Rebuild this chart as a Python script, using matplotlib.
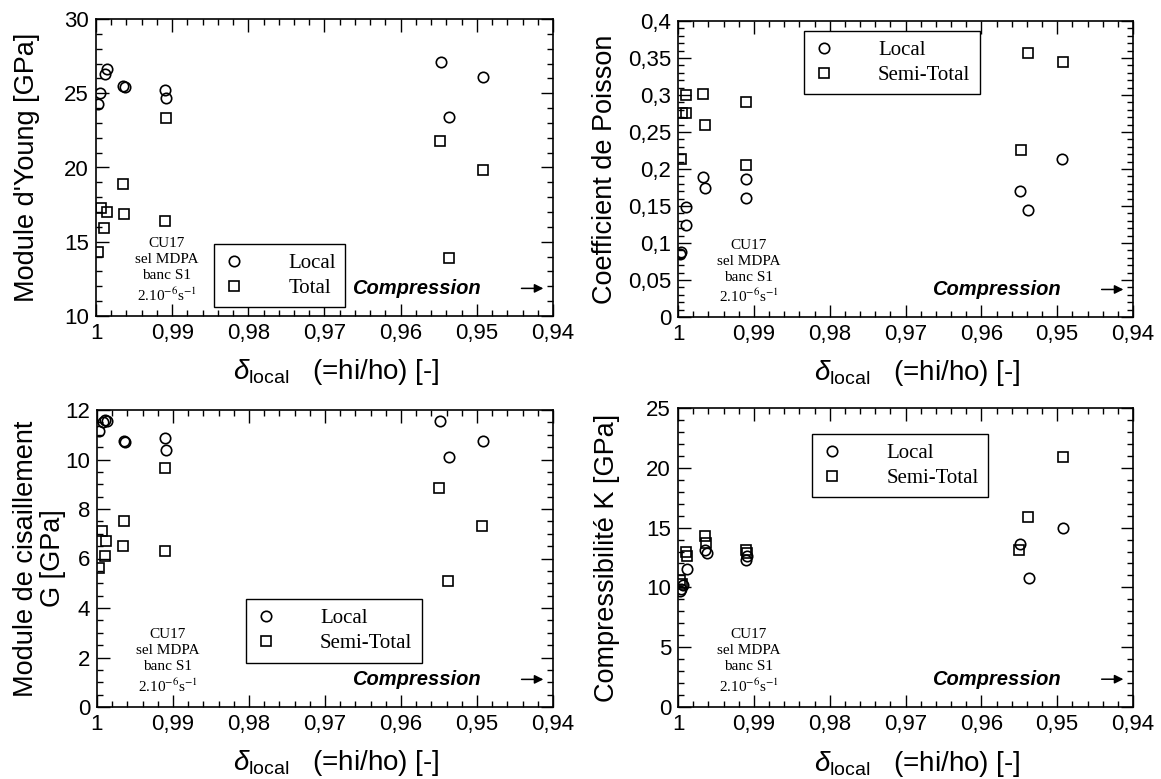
import matplotlib
matplotlib.use('Agg')
import matplotlib.pyplot as plt
from matplotlib.ticker import MultipleLocator, FuncFormatter

plt.rcParams['font.family'] = ['Liberation Sans', 'DejaVu Sans']
plt.rcParams['mathtext.fontset'] = 'custom'
plt.rcParams['mathtext.rm'] = 'Liberation Sans'
plt.rcParams['mathtext.it'] = 'Liberation Sans:italic'

# Module d'Young
x_young_local = [0.9997, 0.9995, 0.9988, 0.9986, 0.9964, 0.9962, 0.9910, 0.9908, 0.9547, 0.9537, 0.9492]
young_local = [24.3, 25.0, 26.3, 26.6, 25.5, 25.4, 25.2, 24.7, 27.1, 23.4, 26.1]
x_young_total = [0.9997, 0.9994, 0.9989, 0.9986, 0.9964, 0.9963, 0.9908, 0.9910, 0.9548, 0.9537, 0.9492]
young_total = [14.3, 17.3, 15.9, 17.0, 18.9, 16.9, 23.3, 16.4, 21.8, 13.9, 19.8]

# Coefficient de Poisson
x_poisson_local = [0.9997, 0.9996, 0.9989, 0.9989, 0.9967, 0.9965, 0.9910, 0.9910, 0.9549, 0.9538, 0.9494]
poisson_local = [0.085, 0.088, 0.124, 0.149, 0.189, 0.175, 0.186, 0.161, 0.170, 0.145, 0.214]
x_poisson_semi = [0.9996, 0.9995, 0.9989, 0.9989, 0.9967, 0.9965, 0.9910, 0.9910, 0.9548, 0.9538, 0.9492]
poisson_semi = [0.214, 0.275, 0.276, 0.300, 0.302, 0.259, 0.290, 0.205, 0.226, 0.357, 0.345]

# Module de cisaillement G
x_shear_local = [0.9997, 0.9992, 0.9989, 0.9987, 0.9965, 0.9963, 0.9910, 0.9909, 0.9549, 0.9537, 0.9492]
shear_local = [11.15, 11.5, 11.6, 11.55, 10.75, 10.7, 10.85, 10.4, 11.55, 10.1, 10.75]
x_shear_semi = [0.9997, 0.9993, 0.9988, 0.9989, 0.9964, 0.9966, 0.9910, 0.9910, 0.9550, 0.9538, 0.9494]
shear_semi = [5.6, 7.1, 6.7, 6.1, 7.5, 6.5, 9.65, 6.3, 8.85, 5.1, 7.3]

# Compressibilite K
x_bulk_local = [0.9997, 0.9996, 0.9994, 0.9988, 0.9965, 0.9962, 0.9910, 0.9909, 0.9549, 0.9537, 0.9492]
bulk_local = [9.7, 9.9, 10.2, 11.5, 13.1, 12.9, 12.3, 12.6, 13.6, 10.8, 15.0]
x_bulk_semi = [0.9997, 0.9995, 0.9990, 0.9988, 0.9965, 0.9963, 0.9910, 0.9909, 0.9550, 0.9539, 0.9492]
bulk_semi = [10.6, 10.3, 13.0, 12.6, 14.3, 13.7, 13.1, 12.9, 13.1, 15.9, 20.9]

W, H = 1161, 779


def rect(x0, y0, x1, y1):
    # pixel box -> figure fraction
    return [x0 / W, 1 - y1 / H, (x1 - x0) / W, (y1 - y0) / H]


def comma(v, pos):
    return ('%g' % round(v, 4)).replace('.', ',')


def panel(ax, xl, yl, xs, ys, labels, ylim, ymaj, ymin, ylabel, ylab_x, leg_pos):
    ax.plot(xl, yl, 'o', ms=7.5, mfc='none', mec='black', mew=1.2, label=labels[0])
    ax.plot(xs, ys, 's', ms=7, mfc='none', mec='black', mew=1.2, label=labels[1])
    ax.set_xlim(1, 0.94)
    ax.set_ylim(*ylim)
    ax.xaxis.set_major_locator(MultipleLocator(0.01))
    ax.xaxis.set_minor_locator(MultipleLocator(0.002))
    ax.yaxis.set_major_locator(MultipleLocator(ymaj))
    ax.yaxis.set_minor_locator(MultipleLocator(ymin))
    ax.xaxis.set_major_formatter(FuncFormatter(comma))
    ax.yaxis.set_major_formatter(FuncFormatter(comma))
    ax.tick_params(which='both', direction='in', top=True, right=True, width=1)
    ax.tick_params(which='major', length=9, labelsize=16, pad=5)
    ax.tick_params(which='minor', length=4)
    for s in ax.spines.values():
        s.set_linewidth(1.2)

    ax.set_ylabel(ylabel, fontsize=19.5, linespacing=1.05)
    ax.yaxis.set_label_coords(ylab_x, 0.5)
    ax.yaxis.label.set_va('center')
    ax.set_xlabel(r'$\delta_{\mathrm{local}}$   (=hi/ho) [-]', fontsize=20)
    ax.xaxis.set_label_coords(0.525, -0.19)
    ax.xaxis.label.set_va('center')

    leg = ax.legend(loc='upper left', bbox_to_anchor=leg_pos, borderaxespad=0,
                    fancybox=False, framealpha=1, edgecolor='black',
                    handlelength=1, handletextpad=2.1, borderpad=0.45,
                    labelspacing=0.25, prop={'family': 'Liberation Serif', 'size': 15})
    leg.get_frame().set_linewidth(1)

    ax.text(0.155, 0.265, 'CU17\nsel MDPA\nbanc S1\n2.10$^{-6}$s$^{-1}$',
            transform=ax.transAxes, ha='center', va='top', fontsize=11,
            family='Liberation Serif', math_fontfamily='stix', linespacing=1.3)
    ax.text(0.70, 0.093, 'Compression', transform=ax.transAxes, ha='center',
            va='center', fontsize=14.5, fontweight='bold', fontstyle='italic')
    ax.annotate('', xy=(0.985, 0.093), xytext=(0.925, 0.093), xycoords='axes fraction',
                arrowprops=dict(arrowstyle='-|>', color='black', lw=1.1, mutation_scale=13))


fig = plt.figure(figsize=(W / 100, H / 100), dpi=100)

ax1 = fig.add_axes(rect(96, 19, 553, 316))
panel(ax1, x_young_local, young_local, x_young_total, young_total, ['Local', 'Total'],
      (10, 30), 5, 1, "Module d'Young [GPa]", -0.15, (0.259, 0.242))

ax2 = fig.add_axes(rect(678, 21, 1133, 317))
panel(ax2, x_poisson_local, poisson_local, x_poisson_semi, poisson_semi, ['Local', 'Semi-Total'],
      (0, 0.4), 0.05, 0.01, 'Coefficient de Poisson', -0.16, (0.277, 0.966))

ax3 = fig.add_axes(rect(97, 410, 553, 707))
panel(ax3, x_shear_local, shear_local, x_shear_semi, shear_semi, ['Local', 'Semi-Total'],
      (0, 12), 2, 0.5, 'Module de cisaillement\nG [GPa]', -0.125, (0.327, 0.362))

ax4 = fig.add_axes(rect(678, 408, 1133, 707))
panel(ax4, x_bulk_local, bulk_local, x_bulk_semi, bulk_semi, ['Local', 'Semi-Total'],
      (0, 25), 5, 1, 'Compressibilité K [GPa]', -0.155, (0.295, 0.912))

fig.savefig('out.png', dpi=100)
